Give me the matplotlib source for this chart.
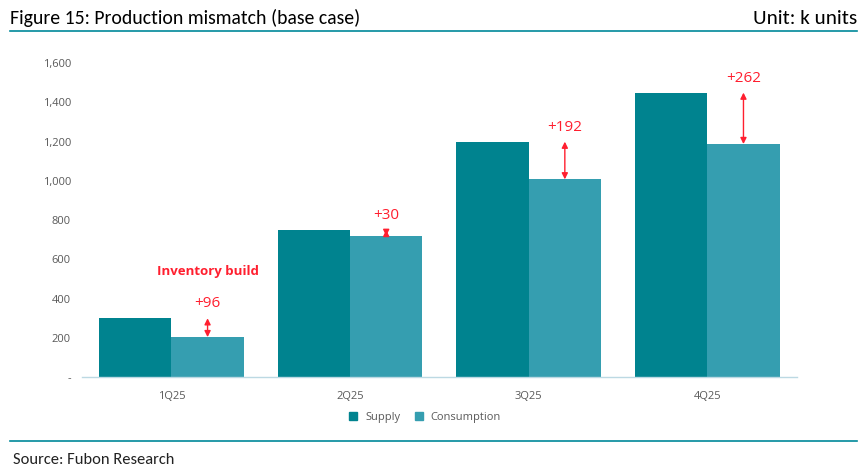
import numpy as np
import matplotlib.pyplot as plt
from matplotlib.lines import Line2D

quarters = ["1Q25", "2Q25", "3Q25", "4Q25"]
supply = [300, 750, 1200, 1450]
consumption = [204, 720, 1008, 1188]
y_ticks = [0, 200, 400, 600, 800, 1000, 1200, 1400, 1600]
y_tick_labels = ["-", "200", "400", "600", "800", "1,000", "1,200", "1,400", "1,600"]

col_supply = "#00838f"
col_cons = "#359eb0"
col_line = "#00899a"
col_red = "#ff1f2f"

head_font = ["Carlito", "DejaVu Sans"]
body_font = ["Open Sans", "DejaVu Sans"]

fig = plt.figure(figsize=(8.64, 4.75), dpi=100)
ax = fig.add_axes([0.095, 0.206, 0.827, 0.661])

x = np.arange(len(quarters))
bar_w = 0.405
ax.bar(x - bar_w / 2, supply, width=bar_w, color=col_supply, label="Supply")
ax.bar(x + bar_w / 2, consumption, width=bar_w, color=col_cons, label="Consumption")

ax.set_xlim(-0.5, len(quarters) - 0.5)
ax.set_ylim(0, 1600)
ax.set_yticks(y_ticks)
ax.set_yticklabels(y_tick_labels)
ax.set_xticks(x)
ax.set_xticklabels(quarters)
ax.tick_params(axis="both", length=0, labelsize=8, colors="#595959", pad=8)
ax.tick_params(axis="x", pad=10)
for lab in ax.get_xticklabels() + ax.get_yticklabels():
    lab.set_family(body_font)
for s in ["top", "right", "left"]:
    ax.spines[s].set_visible(False)
ax.spines["bottom"].set_color("#bcd9e3")
ax.spines["bottom"].set_linewidth(1.0)

# gap arrows between supply and consumption
for i in range(len(quarters)):
    gap = supply[i] - consumption[i]
    xc = x[i] + bar_w / 2
    ax.annotate("", xy=(xc, consumption[i]), xytext=(xc, supply[i]),
                arrowprops=dict(arrowstyle="<|-|>", color=col_red, lw=1.0,
                                mutation_scale=9, shrinkA=0, shrinkB=0))
    ax.annotate("+{}".format(gap), xy=(xc, supply[i]), xytext=(0, 5),
                textcoords="offset points", ha="center", va="bottom",
                color=col_red, fontsize=11, family=body_font)

ax.text(x[0] + bar_w / 2, 540, "Inventory build", ha="center", va="center",
        color=col_red, fontsize=9.5, fontweight="bold", family=body_font)

handles = [Line2D([0], [0], marker="s", ls="", color=col_supply, markersize=6),
           Line2D([0], [0], marker="s", ls="", color=col_cons, markersize=6)]
fig.legend(handles, ["Supply", "Consumption"], loc="center", bbox_to_anchor=(0.488, 0.121),
           ncol=2, frameon=False, handletextpad=0.1, columnspacing=0.6,
           labelcolor="#595959", prop={"family": body_font, "size": 8})

# header / footer, sized to the reference widths (px)
renderer = fig.canvas.get_renderer()


def fitted_text(xpos, ypos, txt, width_px, ha, color="black"):
    t = fig.text(xpos, ypos, txt, fontsize=15, family=head_font, va="center", ha=ha, color=color)
    w = t.get_window_extent(renderer=renderer).width
    t.set_fontsize(15 * width_px / w)
    return t


fitted_text(0.012, 0.962, "Figure 15: Production mismatch (base case)", 352, "left")
fitted_text(0.992, 0.962, "Unit: k units", 104, "right")
fig.add_artist(Line2D([0.012, 0.992], [0.935, 0.935], color=col_line, lw=1.2))
fig.add_artist(Line2D([0.012, 0.992], [0.072, 0.072], color=col_line, lw=1.2))
fitted_text(0.015, 0.032, "Source: Fubon Research", 162, "left", color="#222222")

fig.savefig("out.png", dpi=100)
